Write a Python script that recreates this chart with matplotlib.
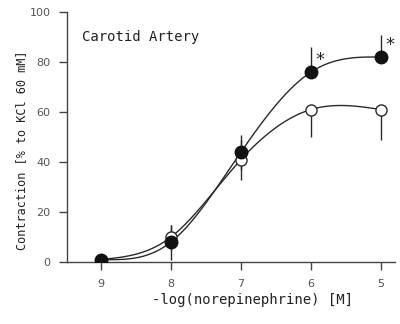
import numpy as np
import matplotlib
matplotlib.use("Agg")
import matplotlib.pyplot as plt

# data
conc = [9, 8, 7, 6, 5]
filled_vals = [1, 8, 44, 76, 82]
filled_err = [0, 7, 7, 10, 9]
open_vals = [1, 10, 41, 61, 61]
open_err = [0, 5, 8, 11, 12]
xticks = [9, 8, 7, 6, 5]
yticks = [0, 20, 40, 60, 80, 100]


def natural_spline(x, y, n=200):
    x = np.asarray(x, float)
    y = np.asarray(y, float)
    order = np.argsort(x)
    x, y = x[order], y[order]
    m = len(x)
    h = np.diff(x)
    A = np.zeros((m, m))
    b = np.zeros(m)
    A[0, 0] = A[-1, -1] = 1
    for i in range(1, m - 1):
        A[i, i - 1] = h[i - 1]
        A[i, i] = 2 * (h[i - 1] + h[i])
        A[i, i + 1] = h[i]
        b[i] = 3 * ((y[i + 1] - y[i]) / h[i] - (y[i] - y[i - 1]) / h[i - 1])
    c = np.linalg.solve(A, b)
    xs = np.linspace(x[0], x[-1], n)
    ys = np.empty_like(xs)
    for k, xv in enumerate(xs):
        i = min(np.searchsorted(x, xv, side="right") - 1, m - 2)
        dx = xv - x[i]
        bb = (y[i + 1] - y[i]) / h[i] - h[i] * (2 * c[i] + c[i + 1]) / 3
        d = (c[i + 1] - c[i]) / (3 * h[i])
        ys[k] = y[i] + bb * dx + c[i] * dx ** 2 + d * dx ** 3
    return xs, ys


fig = plt.figure(figsize=(4.0, 3.24), dpi=100)
ax = fig.add_axes([67 / 400, 62 / 324, 328 / 400, 250 / 324])

lc = "#2a2a2a"
for vals in (filled_vals, open_vals):
    xs, ys = natural_spline(conc, vals)
    ax.plot(xs, ys, color=lc, lw=1.0, zorder=2)

# error bars (filled upward, open downward where they separate)
for x, v, e in zip(conc, filled_vals, filled_err):
    if e:
        ax.vlines(x, v - (e if x >= 7 else 0), v + e, color=lc, lw=1.0, zorder=1)
for x, v, e in zip(conc, open_vals, open_err):
    if e:
        ax.vlines(x, v - e, v + (e if x >= 7 else 0), color=lc, lw=1.0, zorder=1)

ax.plot(conc, open_vals, "o", ms=8, mfc="white", mec=lc, mew=1.0, zorder=3)
ax.plot(conc, filled_vals, "o", ms=9, mfc="#111111", mec="#111111", zorder=4)

for x, v in ((6, filled_vals[3]), (5, filled_vals[4])):
    ax.annotate("*", (x, v), xytext=(3, 2), textcoords="offset points",
                fontsize=13, color="#222222", ha="left", va="bottom",
                family="DejaVu Sans")

ax.set_xlim(9.486, 4.80)
ax.set_ylim(0, 100)
ax.set_xticks(xticks)
ax.set_yticks(yticks)
ax.set_xticklabels([str(t) for t in xticks])
ax.set_yticklabels([str(t) for t in yticks])
for s in ("top", "right"):
    ax.spines[s].set_visible(False)
for s in ("left", "bottom"):
    ax.spines[s].set_color("#444444")
    ax.spines[s].set_linewidth(1.0)
ax.tick_params(direction="out", length=6, width=1.0, color="#444444",
               labelsize=8, labelcolor="#555555", pad=6)

fig.text(82 / 400, 1 - 37 / 324, "Carotid Artery", fontsize=10,
         family="DejaVu Sans Mono", color="#222222", va="center", ha="left")

ax.set_xlabel("-log(norepinephrine) [M]", family="DejaVu Sans Mono",
              fontsize=10, color="#222222")
ax.xaxis.set_label_coords((253 - 67) / 328, -38 / 250)
ax.xaxis.label.set_va("center")
ax.set_ylabel("Contraction [% to KCl 60 mM]", family="DejaVu Sans Mono",
              fontsize=8.6, color="#222222")
ax.yaxis.set_label_coords((22 - 67) / 328, (262 - 150) / 250)
ax.yaxis.label.set_va("center")

fig.savefig("out.png", dpi=100)
